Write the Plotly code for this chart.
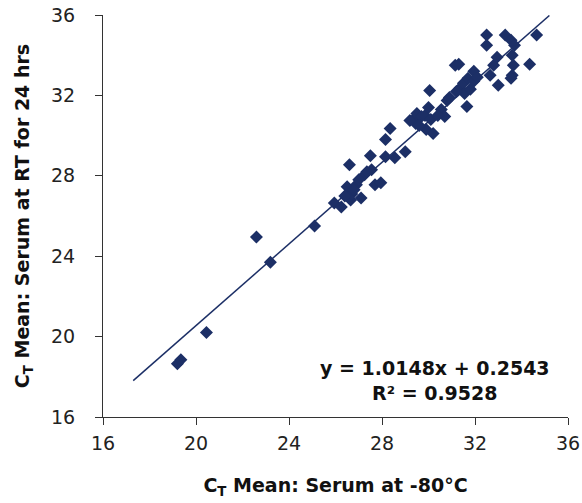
import plotly.graph_objects as go

# CT mean values: serum at -80°C (x) vs serum at RT for 24 hrs (y)
ct_minus80 = [19.2, 19.35, 20.45, 22.6, 23.2, 25.1, 25.95, 26.25, 26.5, 26.6,
              26.65, 26.7, 26.9, 27.1, 27.25, 27.5, 27.55, 27.7, 27.95, 28.15,
              28.15, 28.35, 28.55, 29.0, 29.35, 29.45, 29.5, 29.7, 29.85, 29.9,
              30.05, 30.1, 30.2, 30.55, 30.7, 30.8, 31.15, 31.3, 31.35, 31.5,
              31.55, 31.65, 31.7, 31.8, 31.95, 31.95, 32.1, 32.5, 32.5, 32.65,
              32.8, 32.95, 33.0, 33.3, 33.55, 33.7, 33.6, 33.65, 33.6, 33.55,
              34.35, 34.65, 31.2, 30.9, 26.8, 27.0, 27.35, 26.4, 29.6, 30.0,
              30.4, 29.2]
ct_rt24 = [18.65, 18.85, 20.2, 24.95, 23.7, 25.5, 26.65, 26.45, 27.45, 28.55,
           26.8, 27.1, 27.55, 26.9, 28.05, 29.0, 28.3, 27.55, 27.65, 28.95,
           29.8, 30.35, 28.9, 29.2, 30.8, 30.6, 31.1, 30.95, 31.0, 30.3,
           32.25, 30.8, 30.1, 31.3, 30.95, 31.75, 33.5, 33.55, 32.35, 32.6,
           32.1, 31.45, 32.85, 32.3, 33.2, 32.7, 32.9, 35.0, 34.5, 33.0,
           33.5, 33.9, 32.5, 35.0, 34.75, 34.5, 34.0, 33.5, 33.0, 32.85,
           33.55, 35.0, 32.2, 31.9, 27.3, 27.8, 28.2, 27.0, 30.5, 31.4,
           31.0, 30.75]

# Linear trendline as reported on the chart
slope = 1.0148
intercept = 0.2543
trend_x_range = [17.3, 35.2]
trend_y_range = [slope * v + intercept for v in trend_x_range]

tick_vals = [16, 20, 24, 28, 32, 36]

navy = "#1c2f66"
font_family = "DejaVu Sans"

fig = go.Figure()
fig.add_trace(go.Scatter(
    x=trend_x_range, y=trend_y_range, mode="lines",
    line=dict(color=navy, width=1.5), hoverinfo="skip", showlegend=False))
fig.add_trace(go.Scatter(
    x=ct_minus80, y=ct_rt24, mode="markers",
    marker=dict(symbol="diamond", size=10, color=navy),
    showlegend=False))

axis_common = dict(
    range=[16, 36], tickvals=tick_vals, showgrid=False, zeroline=False,
    showline=True, linecolor="#333333", linewidth=1, automargin=False,
    ticks="outside", ticklen=7, tickcolor="#333333", tickwidth=1,
    tickfont=dict(family=font_family, size=19, color="#222222"),
)
fig.update_xaxes(**axis_common, ticklabelstandoff=2,
                 title=dict(text="<b>C<sub>T</sub> Mean: Serum at -80°C</b>",
                            font=dict(family=font_family, size=19, color="#111111"),
                            standoff=25))
fig.update_yaxes(**axis_common, ticklabelstandoff=16,
                 title=dict(text="<b>C<sub>T</sub> Mean: Serum at RT for 24 hrs</b>",
                            font=dict(family=font_family, size=19, color="#111111"),
                            standoff=16))

fig.add_annotation(
    x=0.714, y=0.092, xref="paper", yref="paper", xanchor="center", yanchor="middle",
    text="<b>y = 1.0148x + 0.2543<br>R² = 0.9528</b>", showarrow=False,
    font=dict(family=font_family, size=19, color="#111111"), align="center")

fig.update_layout(
    width=582, height=503,
    margin=dict(l=103, r=14, t=15, b=86),
    paper_bgcolor="white", plot_bgcolor="white",
)

fig.write_html("out.html")
